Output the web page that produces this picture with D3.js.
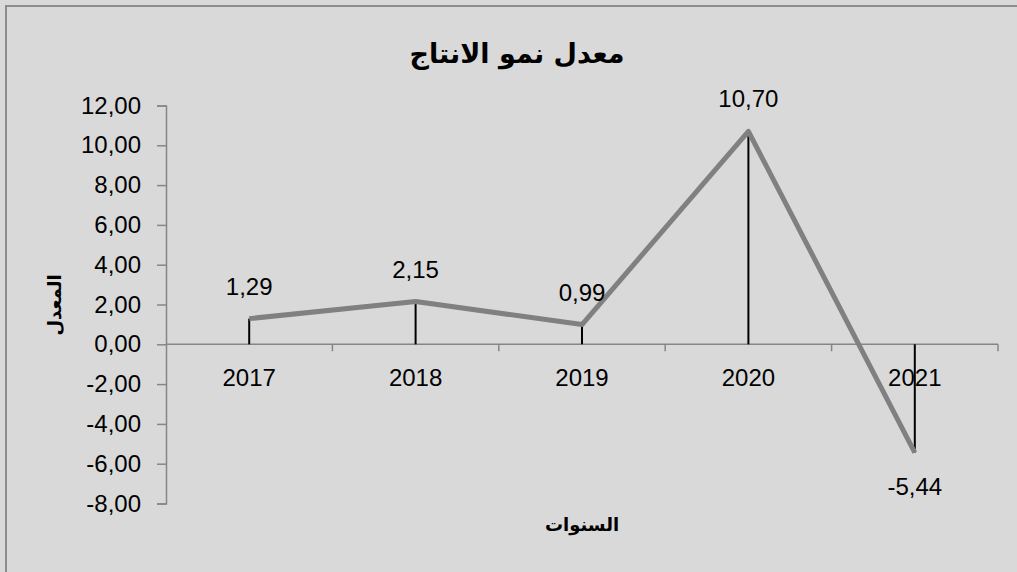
<!DOCTYPE html>
<html>
<head>
<meta charset="utf-8">
<script src="https://cdn.jsdelivr.net/npm/d3@7"></script>
<style>
  html, body { margin: 0; padding: 0; background: #d9d9d9; }
  svg { display: block; }
  .num { font-family: "Liberation Sans", "Open Sans", sans-serif; font-size: 24px; fill: #000; }
  .ar { font-family: "DejaVu Sans", sans-serif; font-weight: bold; fill: #000; }
</style>
</head>
<body>
<svg width="1017" height="572"></svg>
<script>
// chart data
const years = ['2017', '2018', '2019', '2020', '2021'];
const rates = [1.29, 2.15, 0.99, 10.70, -5.44];
const yTicks = [-8, -6, -4, -2, 0, 2, 4, 6, 8, 10, 12];

const title = 'معدل نمو الانتاج';
const yTitle = 'المعدل';
const xTitle = 'السنوات';

const svg = d3.select('svg');
const axisColor = '#868686';
const fmt = v => v.toFixed(2).replace('.', ',');

// frame
svg.append('rect')
    .attr('x', 6).attr('y', 6)
    .attr('width', 1040).attr('height', 600)
    .attr('fill', '#d9d9d9')
    .attr('stroke', '#8c8c8c')
    .attr('stroke-width', 2);

const x = d3.scaleBand().domain(years).range([166, 998]);
const y = d3.scaleLinear().domain([-8, 12]).range([503.5, 105.5]);
const cx = d => x(d) + x.bandwidth() / 2;
const y0 = y(0);

// y axis
const yAxis = svg.append('g')
    .attr('transform', 'translate(166,0)')
    .call(d3.axisLeft(y).tickValues(yTicks).tickSize(9).tickPadding(16).tickFormat(fmt));
yAxis.select('.domain').attr('stroke', axisColor).attr('stroke-width', 1.5);
yAxis.selectAll('.tick line').attr('stroke', axisColor).attr('stroke-width', 1.5);
yAxis.selectAll('.tick text').attr('class', 'num');

// x axis (at zero), ticks between categories
const xg = svg.append('g');
xg.append('line')
    .attr('x1', x.range()[0]).attr('x2', x.range()[1])
    .attr('y1', y0).attr('y2', y0)
    .attr('stroke', axisColor).attr('stroke-width', 1.5);
const bounds = years.map(d => x(d)).concat([x.range()[1]]);
xg.selectAll('line.tk')
    .data(bounds.slice(1))
    .enter().append('line')
    .attr('class', 'tk')
    .attr('x1', d => d).attr('x2', d => d)
    .attr('y1', y0).attr('y2', y0 + 7)
    .attr('stroke', axisColor).attr('stroke-width', 1.5);
xg.selectAll('text')
    .data(years)
    .enter().append('text')
    .attr('class', 'num')
    .attr('x', d => cx(d))
    .attr('y', y0 + 42)
    .attr('text-anchor', 'middle')
    .text(d => d);

// drop lines
svg.selectAll('line.drop')
    .data(years)
    .enter().append('line')
    .attr('class', 'drop')
    .attr('x1', d => cx(d)).attr('x2', d => cx(d))
    .attr('y1', y0).attr('y2', (d, i) => y(rates[i]))
    .attr('stroke', '#000').attr('stroke-width', 2);

// series line
const line = d3.line()
    .x((d, i) => cx(years[i]))
    .y(d => y(d));
svg.append('path')
    .datum(rates)
    .attr('d', line)
    .attr('fill', 'none')
    .attr('stroke', '#808080')
    .attr('stroke-width', 5)
    .attr('stroke-linejoin', 'round');

// data labels
svg.selectAll('text.lbl')
    .data(rates)
    .enter().append('text')
    .attr('class', 'num lbl')
    .attr('x', (d, i) => cx(years[i]))
    .attr('y', d => d >= 0 ? y(d) - 24 : y(d) + 42)
    .attr('text-anchor', 'middle')
    .text(fmt);

// titles
svg.append('text')
    .attr('class', 'ar')
    .attr('x', 517).attr('y', 63)
    .attr('text-anchor', 'middle')
    .style('font-size', '27px')
    .text(title);

svg.append('text')
    .attr('class', 'ar')
    .attr('transform', 'translate(61,305) rotate(-90)')
    .attr('text-anchor', 'middle')
    .style('font-size', '18px')
    .text(yTitle);

svg.append('text')
    .attr('class', 'ar')
    .attr('x', 582).attr('y', 531)
    .attr('text-anchor', 'middle')
    .style('font-size', '18px')
    .text(xTitle);
</script>
</body>
</html>
